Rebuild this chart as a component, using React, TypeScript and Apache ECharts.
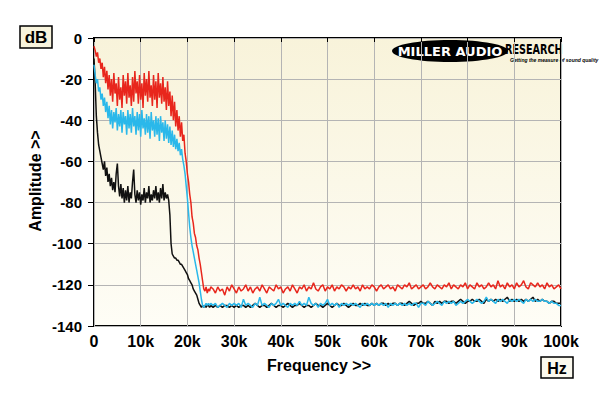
import React, { useEffect, useRef } from "react";
import * as echarts from "echarts";

// Frequencies in kHz. Low band: 0..25 kHz every 0.25 kHz; high band: 25.5..100 kHz every 0.5 kHz
const lowStep = 0.25;
const highStart = 25.5;
const highStep = 0.5;

const redLow = [
  -4, -6, -9, -7, -12, -10, -15, -12, -19, -14, -22, -16, -25, -18, -28, -20, -31, -17, -27, -22,
  -33, -19, -30, -24, -34, -18, -28, -21, -32, -17, -29, -23, -33, -19, -31, -16, -27, -21, -32, -18,
  -30, -22, -34, -17, -28, -20, -31, -16, -29, -23, -33, -18, -30, -21, -34, -17, -29, -22, -32, -19,
  -31, -24, -35, -21, -33, -26, -38, -28, -40, -31, -43, -35, -45, -38, -48, -41, -50, -47, -56, -60,
  -66, -70, -76, -80, -87, -90, -95, -97, -101, -103, -107, -110, -114, -118, -122, -123, -121, -124, -122, -123,
  -121,
];
const cyanLow = [
  -13, -18, -22, -20, -26, -24, -30, -27, -33, -29, -36, -31, -39, -33, -42, -35, -44, -36, -41, -34,
  -45, -37, -43, -35, -46, -36, -42, -38, -47, -35, -44, -37, -46, -34, -43, -38, -47, -36, -45, -37,
  -48, -35, -44, -39, -47, -37, -46, -38, -49, -36, -45, -40, -48, -38, -47, -39, -50, -38, -46, -41,
  -50, -40, -49, -42, -51, -43, -52, -45, -53, -47, -54, -49, -55, -51, -57, -54, -59, -62, -66, -72,
  -78, -85, -92, -97, -101, -104, -107, -110, -113, -116, -119, -123, -127, -130, -131, -130, -129, -130, -129, -130,
  -129,
];
const blackLow = [
  -10, -22, -38, -46, -52, -55, -58, -61, -64, -60, -67, -63, -70, -66, -72, -68, -74, -70, -75, -66,
  -61, -72, -77, -71, -78, -73, -80, -74, -79, -72, -80, -75, -78, -70, -64, -76, -80, -74, -79, -75,
  -81, -76, -79, -73, -80, -75, -78, -72, -80, -76, -79, -74, -78, -72, -79, -75, -80, -73, -78, -71,
  -79, -75, -78, -76, -79, -86, -100, -105, -106, -107, -107, -108, -108, -109, -110, -110, -111, -112, -113, -114,
  -115, -117, -118, -119, -120, -122, -123, -124, -125, -127, -129, -130, -131, -130, -131, -130, -131, -130, -130, -131,
  -130,
];

const redHigh = [
  -122, -124, -121, -123, -122, -125, -121, -123, -120, -122,
  -124, -121, -123, -122, -120, -123, -121, -124, -122, -121,
  -123, -120, -122, -124, -121, -122, -123, -120, -122, -121,
  -124, -122, -121, -123, -120, -122, -124, -121, -122, -120,
  -123, -121, -122, -119, -122, -123, -121, -120, -123, -121,
  -122, -120, -123, -121, -122, -120, -121, -123, -121, -122,
  -120, -122, -121, -123, -120, -122, -121, -122, -120, -121,
  -123, -121, -120, -122, -121, -120, -122, -121, -123, -120,
  -121, -122, -120, -121, -119, -122, -121, -120, -122, -121,
  -120, -122, -121, -119, -121, -122, -120, -121, -122, -120,
  -121, -119, -122, -120, -121, -122, -120, -121, -119, -122,
  -120, -121, -122, -119, -121, -120, -122, -121, -119, -121,
  -120, -122, -118, -121, -120, -122, -119, -121, -120, -122,
  -119, -121, -120, -118, -121, -122, -119, -120, -121, -119,
  -121, -120, -122, -119, -121, -120, -122, -121, -120, -122,
];
const cyanHigh = [
  -130, -129, -131, -130, -129, -130, -131, -129, -130, -129,
  -130, -129, -131, -127, -130, -129, -130, -131, -129, -130,
  -126, -130, -129, -130, -131, -129, -130, -129, -127, -130,
  -129, -130, -131, -129, -130, -129, -130, -128, -130, -129,
  -130, -126, -129, -130, -129, -131, -129, -130, -129, -127,
  -130, -129, -130, -129, -131, -129, -130, -129, -130, -129,
  -130, -129, -130, -131, -129, -130, -129, -130, -129, -130,
  -129, -130, -129, -130, -129, -131, -129, -130, -129, -130,
  -129, -130, -129, -130, -129, -130, -129, -129, -131, -129,
  -129, -130, -128, -129, -130, -129, -128, -129, -130, -128,
  -129, -128, -129, -128, -130, -129, -128, -129, -128, -127,
  -128, -129, -128, -127, -128, -129, -128, -126, -128, -127,
  -128, -129, -127, -128, -127, -128, -129, -127, -128, -127,
  -128, -127, -128, -129, -127, -128, -127, -128, -127, -128,
  -128, -127, -128, -128, -129, -128, -129, -129, -130, -130,
];
const blackHigh = [
  -131, -130, -131, -130, -131, -130, -130, -131, -130, -131,
  -130, -131, -130, -130, -131, -130, -131, -130, -129, -130,
  -131, -130, -130, -131, -130, -129, -130, -131, -130, -130,
  -131, -130, -129, -130, -131, -130, -130, -129, -130, -131,
  -130, -130, -131, -130, -129, -130, -130, -131, -130, -129,
  -130, -131, -130, -129, -130, -130, -129, -130, -131, -130,
  -129, -130, -130, -129, -130, -129, -130, -130, -129, -130,
  -129, -130, -129, -129, -130, -129, -130, -129, -129, -130,
  -129, -129, -130, -129, -128, -129, -130, -129, -129, -128,
  -129, -129, -128, -129, -130, -128, -129, -128, -129, -128,
  -128, -129, -128, -128, -129, -128, -127, -128, -129, -128,
  -128, -127, -128, -128, -127, -128, -129, -127, -128, -127,
  -128, -127, -128, -127, -128, -127, -126, -128, -127, -128,
  -127, -128, -127, -128, -127, -128, -127, -126, -128, -127,
  -128, -127, -128, -128, -129, -128, -128, -129, -129, -129,
];

const yTicks = { min: -140, max: 0, interval: 20 };
const xTicks = { min: 0, max: 100, interval: 10 };

function toPairs(low: number[], high: number[]) {
  const out: [number, number][] = [];
  low.forEach((v, i) => out.push([i * lowStep, v]));
  high.forEach((v, i) => out.push([highStart + i * highStep, v]));
  return out;
}

const FONT = "Liberation Sans, Arial, sans-serif";
const LOGO_FONT = "DejaVu Sans, Liberation Sans, sans-serif";

export default function App() {
  const ref = useRef<HTMLDivElement>(null);
  useEffect(() => {
    if (!ref.current) return;
    const chart = echarts.init(ref.current, null, { renderer: "svg" });
    chart.setOption({
      animation: false,
      backgroundColor: "#ffffff",
      grid: {
        left: 94,
        right: 39,
        top: 38,
        bottom: 70,
        show: true,
        borderColor: "#000",
        borderWidth: 2,
        backgroundColor: {
          type: "linear",
          x: 0,
          y: 0,
          x2: 0,
          y2: 1,
          colorStops: [
            { offset: 0, color: "#f8f3da" },
            { offset: 1, color: "#fefdf6" },
          ],
        },
      },
      xAxis: {
        type: "value",
        min: xTicks.min,
        max: xTicks.max,
        interval: xTicks.interval,
        axisLine: { show: false },
        axisTick: { show: true, length: 4, inside: false, lineStyle: { color: "#000", width: 1 } },
        axisLabel: {
          margin: 7,
          color: "#000",
          fontFamily: FONT,
          fontWeight: "bold",
          fontSize: 16,
          formatter: (v: number) => (v === 0 ? "0" : v + "k"),
        },
        splitLine: { show: true, lineStyle: { color: "#b4b4b4", width: 1 } },
      },
      yAxis: {
        type: "value",
        min: yTicks.min,
        max: yTicks.max,
        interval: yTicks.interval,
        axisLine: { show: false },
        axisTick: { show: true, length: 6, lineStyle: { color: "#000", width: 1 } },
        axisLabel: {
          margin: 12,
          color: "#000",
          fontFamily: FONT,
          fontWeight: "bold",
          fontSize: 15,
        },
        splitLine: { show: true, lineStyle: { color: "#b4b4b4", width: 1 } },
      },
      series: [
        {
          type: "line",
          data: toPairs(redLow, redHigh),
          showSymbol: false,
          lineStyle: { color: "#e8261c", width: 1.5 },
          z: 2,
        },
        {
          type: "line",
          data: toPairs(blackLow, blackHigh),
          showSymbol: false,
          lineStyle: { color: "#111111", width: 1.5 },
          z: 3,
        },
        {
          type: "line",
          data: toPairs(cyanLow, cyanHigh),
          showSymbol: false,
          lineStyle: { color: "#2ab8ea", width: 1.5 },
          z: 4,
        },
      ],
      graphic: [
        {
          type: "rect",
          shape: { x: 20, y: 26, width: 32, height: 22 },
          style: { fill: "#f7f3dc", stroke: "#000", lineWidth: 1.5 },
        },
        {
          type: "text",
          x: 36,
          y: 37,
          style: {
            text: "dB",
            fill: "#000",
            font: `bold 17px ${FONT}`,
            align: "center",
            verticalAlign: "middle",
          },
        },
        {
          type: "rect",
          shape: { x: 541, y: 357, width: 32, height: 21 },
          style: { fill: "#fbf9ee", stroke: "#000", lineWidth: 1.5 },
        },
        {
          type: "text",
          x: 557,
          y: 368,
          style: {
            text: "Hz",
            fill: "#000",
            font: `bold 16px ${FONT}`,
            align: "center",
            verticalAlign: "middle",
          },
        },
        {
          type: "text",
          x: 319,
          y: 365,
          style: {
            text: "Frequency >>",
            fill: "#000",
            font: `bold 16px ${FONT}`,
            align: "center",
            verticalAlign: "middle",
          },
        },
        {
          type: "text",
          x: 35,
          y: 181,
          rotation: Math.PI / 2,
          style: {
            text: "Amplitude >>",
            fill: "#000",
            font: `bold 16px ${FONT}`,
            align: "center",
            verticalAlign: "middle",
          },
        },
        {
          type: "ellipse",
          shape: { cx: 450, cy: 51, rx: 58, ry: 11 },
          style: { fill: "#000" },
        },
        {
          type: "text",
          x: 450,
          y: 51,
          style: {
            text: "MILLER AUDIO",
            fill: "#fff",
            font: `bold 13px ${LOGO_FONT}`,
            align: "center",
            verticalAlign: "middle",
          },
        },
        {
          type: "text",
          x: 505,
          y: 49,
          scaleX: 0.69,
          style: {
            text: "RESEARCH",
            fill: "#000",
            font: `bold 14px ${LOGO_FONT}`,
            align: "left",
            verticalAlign: "middle",
          },
        },
        {
          type: "text",
          x: 510,
          y: 60,
          style: {
            text: "Getting the measure of sound quality",
            fill: "#000",
            font: `italic bold 5px ${FONT}`,
            align: "left",
            verticalAlign: "middle",
          },
        },
      ],
    });
    return () => chart.dispose();
  }, []);
  return (
    <div
      ref={ref}
      style={{ position: "fixed", left: 0, top: 0, width: 600, height: 396 }}
    />
  );
}
